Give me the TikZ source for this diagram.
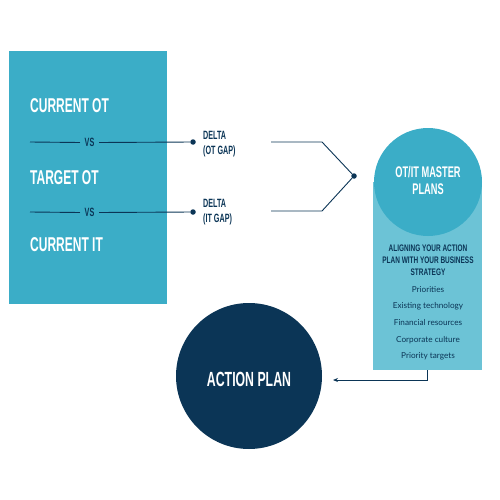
\documentclass[tikz,border=0pt]{standalone}
\usepackage{fontspec}
\setmainfont{Lato}
\newfontfamily\bebas[FakeStretch=0.6]{Liberation Sans}
\newfontfamily\bebasw[FakeStretch=0.68]{Liberation Sans}
\usetikzlibrary{arrows.meta}
\definecolor{navy}{HTML}{0B3556}
\definecolor{tealc}{HTML}{3BADC7}
\definecolor{lightteal}{HTML}{6CC3D6}
\begin{document}
\begin{tikzpicture}[x=1pt,y=-1pt,
  bigtxt/.style={font=\bebas\bfseries\fontsize{20}{22}\selectfont, text=white, inner sep=0pt, anchor=base west},
  smalltxt/.style={font=\bebas\bfseries\fontsize{12}{13}\selectfont, text=navy, inner sep=0pt, anchor=base west},
  vstxt/.style={font=\bebas\bfseries\fontsize{12}{13}\selectfont, text=navy, inner xsep=4.5pt, inner ysep=0pt},
  aligntxt/.style={font=\bebasw\bfseries\fontsize{9.5}{10}\selectfont, text=navy, inner sep=0pt, anchor=base},
  listtxt/.style={font=\fontsize{8.2}{9}\selectfont, text=navy, inner sep=0pt, anchor=base},
  ln/.style={draw=navy, line width=0.9pt},
  dot/.style={circle, fill=navy, inner sep=0pt, minimum size=5.5pt}]
\useasboundingbox (0,0) rectangle (500,500);

% left box
\node[fill=tealc, inner sep=0pt, minimum width=158pt, minimum height=253pt, anchor=north west] (leftbox) at (9,51) {};
\node[bigtxt] (cot) at (30,112.7) {CURRENT OT};
\node[bigtxt] (tot) at (30,184) {TARGET OT};
\node[bigtxt] (cit) at (30,251.7) {CURRENT IT};

% vs lines
\coordinate (l1s) at (30,142);
\coordinate (l2s) at (30,212);
\node[vstxt] (vs1) at (89.5,142.5) {VS};
\node[vstxt] (vs2) at (89.5,212.5) {VS};
\node[dot] (d1) at (193,142) {};
\node[dot] (d2) at (193,212) {};
\draw[ln] (l1s) -- (vs1.west);
\draw[ln] (vs1.east) -- (d1);
\draw[ln] (l2s) -- (vs2.west);
\draw[ln] (vs2.east) -- (d2);

\node[smalltxt] (delta1) at (203,139.3) {DELTA};
\node[smalltxt] (gap1) at (203,154) {(OT GAP)};
\node[smalltxt] (delta2) at (203,207.3) {DELTA};
\node[smalltxt] (gap2) at (203,222) {(IT GAP)};

% merge lines
\coordinate (r1) at (271,142);
\coordinate (r1b) at (322,142);
\coordinate (r2) at (271,211);
\coordinate (r2b) at (322,211);
\node[dot] (j) at (354,176) {};
\draw[ln] (r1) -- (r1b) -- (j);
\draw[ln] (r2) -- (r2b) -- (j);

% master plans
\node[fill=lightteal, inner sep=0pt, minimum width=109pt, minimum height=188pt, anchor=north west] (mrect) at (373,182) {};
\node[circle, fill=tealc, inner sep=0pt, minimum size=108pt] (master) at (428,182) {};
\node[font=\bebas\bfseries\fontsize{15.4}{17}\selectfont, text=white, inner sep=0pt, anchor=base] (m1) at (428,177.7) {OT/IT MASTER};
\node[font=\bebas\bfseries\fontsize{15.4}{17}\selectfont, text=white, inner sep=0pt, anchor=base] (m2) at (428,194.3) {PLANS};

\node[aligntxt] (a1) at (428,251.7) {ALIGNING YOUR ACTION};
\node[aligntxt] (a2) at (428,263.3) {PLAN WITH YOUR BUSINESS};
\node[aligntxt] (a3) at (428,275.7) {STRATEGY};
\node[listtxt] (p1) at (428,292) {Priorities};
\node[listtxt] (p2) at (428,308.5) {Existing technology};
\node[listtxt] (p3) at (428,325) {Financial resources};
\node[listtxt] (p4) at (428,342) {Corporate culture};
\node[listtxt] (p5) at (428,358) {Priority targets};

% action plan
\node[circle, fill=navy, inner sep=0pt, minimum size=146pt] (ap) at (249,376) {};
\node[font=\bebas\bfseries\fontsize{20.5}{23}\selectfont, text=white, inner sep=0pt, anchor=base] (apt) at (249,386.7) {ACTION PLAN};

\coordinate (aend) at (333,380);
\draw[ln, -{Stealth[length=5pt,width=4pt]}] (mrect.south) |- (aend);
\end{tikzpicture}
\end{document}
